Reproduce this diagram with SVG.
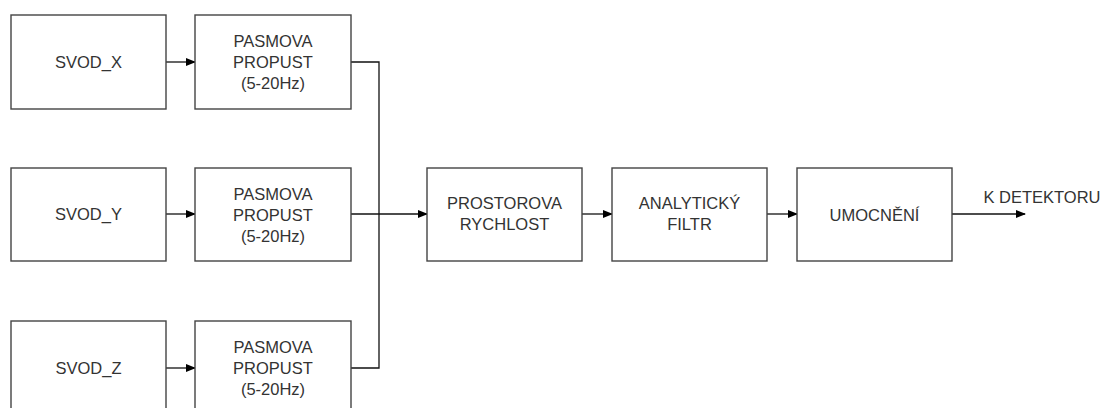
<svg xmlns="http://www.w3.org/2000/svg" width="1107" height="408" viewBox="0 0 1107 408">
<style>
.box{fill:#fff;stroke:#444;stroke-width:1.4}
.t{font-family:"Liberation Sans",Arial,sans-serif;font-size:16.5px;fill:#333;text-anchor:middle}
.c{fill:none;stroke:#111;stroke-width:1.3}
</style>
<defs>
<marker id="ah" markerWidth="10" markerHeight="8" refX="9" refY="4" orient="auto" markerUnits="userSpaceOnUse">
<path d="M0,0 L10,4 L0,8 Z" fill="#000"/>
</marker>
</defs>
<rect width="1107" height="408" fill="#fff"/>
<g id="connectors">
<line class="c" x1="166" y1="62" x2="195" y2="62" marker-end="url(#ah)"/>
<line class="c" x1="166" y1="214" x2="195" y2="214" marker-end="url(#ah)"/>
<line class="c" x1="166" y1="368" x2="195" y2="368" marker-end="url(#ah)"/>
<polyline class="c" points="351,62 379,62 379,368 351,368"/>
<line class="c" x1="351" y1="214" x2="427" y2="214" marker-end="url(#ah)"/>
<line class="c" x1="582" y1="214" x2="612" y2="214" marker-end="url(#ah)"/>
<line class="c" x1="767" y1="214" x2="797" y2="214" marker-end="url(#ah)"/>
<line class="c" x1="952" y1="214" x2="1025" y2="214" marker-end="url(#ah)"/>
</g>
<g id="svod_x"><rect class="box" x="11" y="15" width="155" height="94"/><text class="t" x="88.5" y="68">SVOD_X</text></g>
<g id="svod_y"><rect class="box" x="11" y="168" width="155" height="93"/><text class="t" x="88.5" y="220">SVOD_Y</text></g>
<g id="svod_z"><rect class="box" x="11" y="321" width="155" height="94"/><text class="t" x="88.5" y="374">SVOD_Z</text></g>
<g id="pasmova_x"><rect class="box" x="195" y="15" width="156" height="94"/><text class="t" x="273" y="47">PASMOVA</text><text class="t" x="273" y="68">PROPUST</text><text class="t" x="273" y="89">(5-20Hz)</text></g>
<g id="pasmova_y"><rect class="box" x="195" y="168" width="156" height="93"/><text class="t" x="273" y="200">PASMOVA</text><text class="t" x="273" y="221">PROPUST</text><text class="t" x="273" y="242">(5-20Hz)</text></g>
<g id="pasmova_z"><rect class="box" x="195" y="321" width="156" height="94"/><text class="t" x="273" y="353">PASMOVA</text><text class="t" x="273" y="374">PROPUST</text><text class="t" x="273" y="395">(5-20Hz)</text></g>
<g id="prostorova"><rect class="box" x="427" y="168" width="155" height="93"/><text class="t" x="504.5" y="209">PROSTOROVA</text><text class="t" x="504.5" y="230">RYCHLOST</text></g>
<g id="analyticky"><rect class="box" x="612" y="168" width="155" height="93"/><text class="t" x="689.5" y="209">ANALYTICKÝ</text><text class="t" x="689.5" y="230">FILTR</text></g>
<g id="umocneni"><rect class="box" x="797" y="168" width="155" height="93"/><text class="t" x="874.5" y="221">UMOCNĚNÍ</text></g>
<text class="t" x="1042" y="203">K DETEKTORU</text>
</svg>
